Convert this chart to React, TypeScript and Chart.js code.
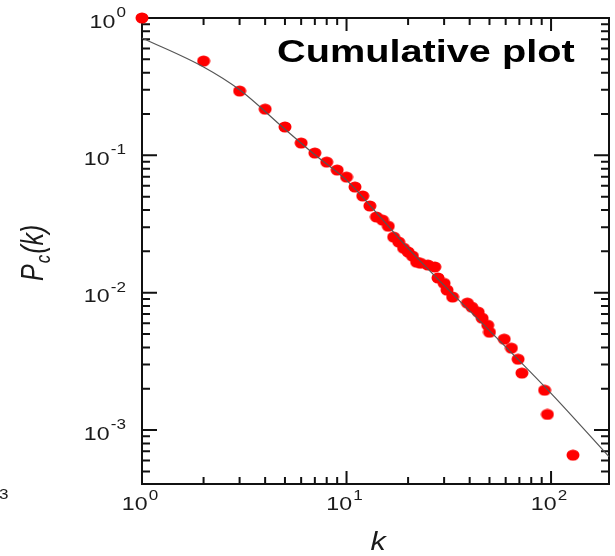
import React, { useEffect, useRef } from "react";
import { Chart, registerables } from "chart.js";

Chart.register(...registerables);

// Degree k and cumulative distribution Pc(k)
const degrees = [
  1, 2, 3, 4, 5, 6, 7, 8, 9, 10, 11, 12, 13, 14, 15, 16, 17, 18, 19, 20, 21, 22, 23,
  25, 27, 28, 30, 31, 33, 39, 41, 44, 46, 49, 50, 59, 64, 69, 72, 93, 96, 128,
];
const cumulative = [
  1, 0.486, 0.294, 0.217, 0.161, 0.123, 0.104, 0.0893, 0.0782, 0.0695, 0.0588, 0.0506,
  0.0428, 0.0356, 0.0338, 0.0305, 0.0254, 0.0234, 0.0211, 0.0198, 0.0185, 0.0167, 0.0164,
  0.0159, 0.0154, 0.0128, 0.0117, 0.01045, 0.0093, 0.0084, 0.00785, 0.00723, 0.00653,
  0.0058, 0.00516, 0.00459, 0.00395, 0.00328, 0.0026, 0.00195, 0.0013, 0.000657,
];

// Fitted curve
const fitK = [1, 2, 3, 5, 7, 10, 15, 20, 30, 50, 100, 192];
const fitP = [0.716, 0.44, 0.3, 0.155, 0.101, 0.066, 0.034, 0.021, 0.0113, 0.0053, 0.00185, 0.00064];

// Axis ranges and decade labels
const xRange = [1, 192];
const yRange = [4.05e-4, 1];
const xDecades = [1, 10, 100];
const xExponents = ["0", "1", "2"];
const yDecades = [1, 0.1, 0.01, 0.001];
const yExponents = ["0", "-1", "-2", "-3"];

const titleText = "Cumulative plot";
const xTitle = "k";
const FONT = '"Liberation Sans", Arial, Helvetica, sans-serif';
const STRETCH = 1.22;
const INK = "#1a1a1a";

function drawPower(
  ctx: CanvasRenderingContext2D,
  exp: string,
  anchorX: number,
  baseY: number,
  supY: number,
  align: "right" | "center"
) {
  ctx.save();
  ctx.font = `19px ${FONT}`;
  const w1 = ctx.measureText("10").width;
  ctx.font = `14px ${FONT}`;
  const w2 = ctx.measureText(exp).width;
  const total = (w1 + 1 + w2) * STRETCH;
  const startX = align === "right" ? anchorX - total : anchorX - total / 2;
  ctx.translate(startX, 0);
  ctx.scale(STRETCH, 1);
  ctx.fillStyle = INK;
  ctx.textAlign = "left";
  ctx.textBaseline = "alphabetic";
  ctx.font = `19px ${FONT}`;
  ctx.fillText("10", 0, baseY);
  ctx.font = `14px ${FONT}`;
  ctx.fillText(exp, w1 + 1, supY);
  ctx.restore();
}

function logTicks(min: number, max: number) {
  const out: { v: number; major: boolean }[] = [];
  for (let d = Math.floor(Math.log10(min)); d <= Math.ceil(Math.log10(max)); d++) {
    for (let m = 1; m <= 9; m++) {
      const v = m * Math.pow(10, d);
      if (v >= min * 0.9999 && v <= max * 1.0001) out.push({ v, major: m === 1 });
    }
  }
  return out;
}

const frameAndText = {
  id: "frameAndText",
  beforeDatasetsDraw(chart: any) {
    const ctx: CanvasRenderingContext2D = chart.ctx;
    const { left, right, top, bottom } = chart.chartArea;
    const xs = chart.scales.x;
    const ys = chart.scales.y;
    ctx.save();
    ctx.strokeStyle = "#111";
    ctx.lineWidth = 2;
    ctx.strokeRect(left, top, right - left, bottom - top);
    ctx.beginPath();
    for (const t of logTicks(xRange[0], xRange[1])) {
      const px = xs.getPixelForValue(t.v);
      const len = t.major ? 13 : 7;
      ctx.moveTo(px, bottom);
      ctx.lineTo(px, bottom - len);
      ctx.moveTo(px, top);
      ctx.lineTo(px, top + len);
    }
    for (const t of logTicks(yRange[0], yRange[1])) {
      const py = ys.getPixelForValue(t.v);
      const len = t.major ? 15 : 8;
      ctx.moveTo(left, py);
      ctx.lineTo(left + len, py);
      ctx.moveTo(right, py);
      ctx.lineTo(right - len, py);
    }
    ctx.stroke();
    ctx.restore();
  },
  afterDatasetsDraw(chart: any) {
    const ctx: CanvasRenderingContext2D = chart.ctx;
    const { left, bottom } = chart.chartArea;
    const xs = chart.scales.x;
    const ys = chart.scales.y;

    yDecades.forEach((v, i) => {
      const py = ys.getPixelForValue(v);
      drawPower(ctx, yExponents[i], left - 16, py + 9.5, py - 1, "right");
    });
    xDecades.forEach((v, i) => {
      const px = xs.getPixelForValue(v);
      drawPower(ctx, xExponents[i], px - 2, bottom + 26, bottom + 16, "center");
    });

    // Title inside the plot
    ctx.save();
    ctx.fillStyle = "#000";
    ctx.font = `bold 32px ${FONT}`;
    ctx.textBaseline = "alphabetic";
    ctx.translate(277, 62);
    ctx.scale(1.24, 1);
    ctx.fillText(titleText, 0, 0);
    ctx.restore();

    // x axis title
    ctx.save();
    ctx.fillStyle = INK;
    ctx.font = `italic 25px ${FONT}`;
    ctx.textAlign = "center";
    ctx.translate(378, 550);
    ctx.scale(STRETCH, 1);
    ctx.fillText(xTitle, 0, 0);
    ctx.restore();

    // y axis title: Pc(k), rotated
    ctx.save();
    ctx.fillStyle = INK;
    ctx.translate(43, 281);
    ctx.scale(STRETCH, 1);
    ctx.rotate(-Math.PI / 2);
    ctx.textBaseline = "alphabetic";
    ctx.font = `italic 25px ${FONT}`;
    let x = 0;
    ctx.fillText("P", x, 0);
    x += ctx.measureText("P").width + 1;
    ctx.font = `italic 17px ${FONT}`;
    ctx.fillText("c", x, 6);
    x += ctx.measureText("c").width + 1;
    ctx.font = `italic 25px ${FONT}`;
    ctx.fillText("(k)", x, 0);
    ctx.restore();

    // clipped superscript from the neighbouring panel
    ctx.save();
    ctx.fillStyle = INK;
    ctx.font = `14px ${FONT}`;
    ctx.translate(-1, 499);
    ctx.scale(STRETCH, 1);
    ctx.fillText("3", 0, 0);
    ctx.restore();
  },
};

export default function App() {
  const ref = useRef<HTMLCanvasElement>(null);

  useEffect(() => {
    const canvas = ref.current;
    if (!canvas) return;

    const dot = document.createElement("canvas");
    dot.width = 14;
    dot.height = 12;
    const dctx = dot.getContext("2d")!;
    dctx.fillStyle = "#ff0000";
    dctx.beginPath();
    dctx.ellipse(7, 6, 6.5, 5.5, 0, 0, Math.PI * 2);
    dctx.fill();

    const chart = new Chart(canvas, {
      type: "scatter",
      data: {
        datasets: [
          {
            label: "fit",
            data: fitK.map((k, i) => ({ x: k, y: fitP[i] })),
            showLine: true,
            pointRadius: 0,
            borderColor: "#555555",
            borderWidth: 1.2,
            cubicInterpolationMode: "monotone",
            clip: false,
            order: 0,
          } as any,
          {
            label: "Pc(k)",
            data: degrees.map((k, i) => ({ x: k, y: cumulative[i] })),
            pointStyle: dot as any,
            pointRadius: 6,
            backgroundColor: "#ff0000",
            borderColor: "#ff0000",
            borderWidth: 0,
            clip: false,
            order: 1,
          } as any,
        ],
      },
      options: {
        responsive: false,
        animation: false,
        events: [],
        layout: { padding: { left: 142, top: 18, right: 6, bottom: 72 } },
        scales: {
          x: { type: "logarithmic", min: xRange[0], max: xRange[1], display: false },
          y: { type: "logarithmic", min: yRange[0], max: yRange[1], display: false },
        },
        plugins: { legend: { display: false }, tooltip: { enabled: false } },
      },
      plugins: [frameAndText],
    });
    return () => chart.destroy();
  }, []);

  return (
    <div style={{ position: "fixed", left: 0, top: 0, width: 615, height: 556, background: "#fff" }}>
      <canvas ref={ref} width={615} height={556} style={{ display: "block", width: 615, height: 556 }} />
    </div>
  );
}
